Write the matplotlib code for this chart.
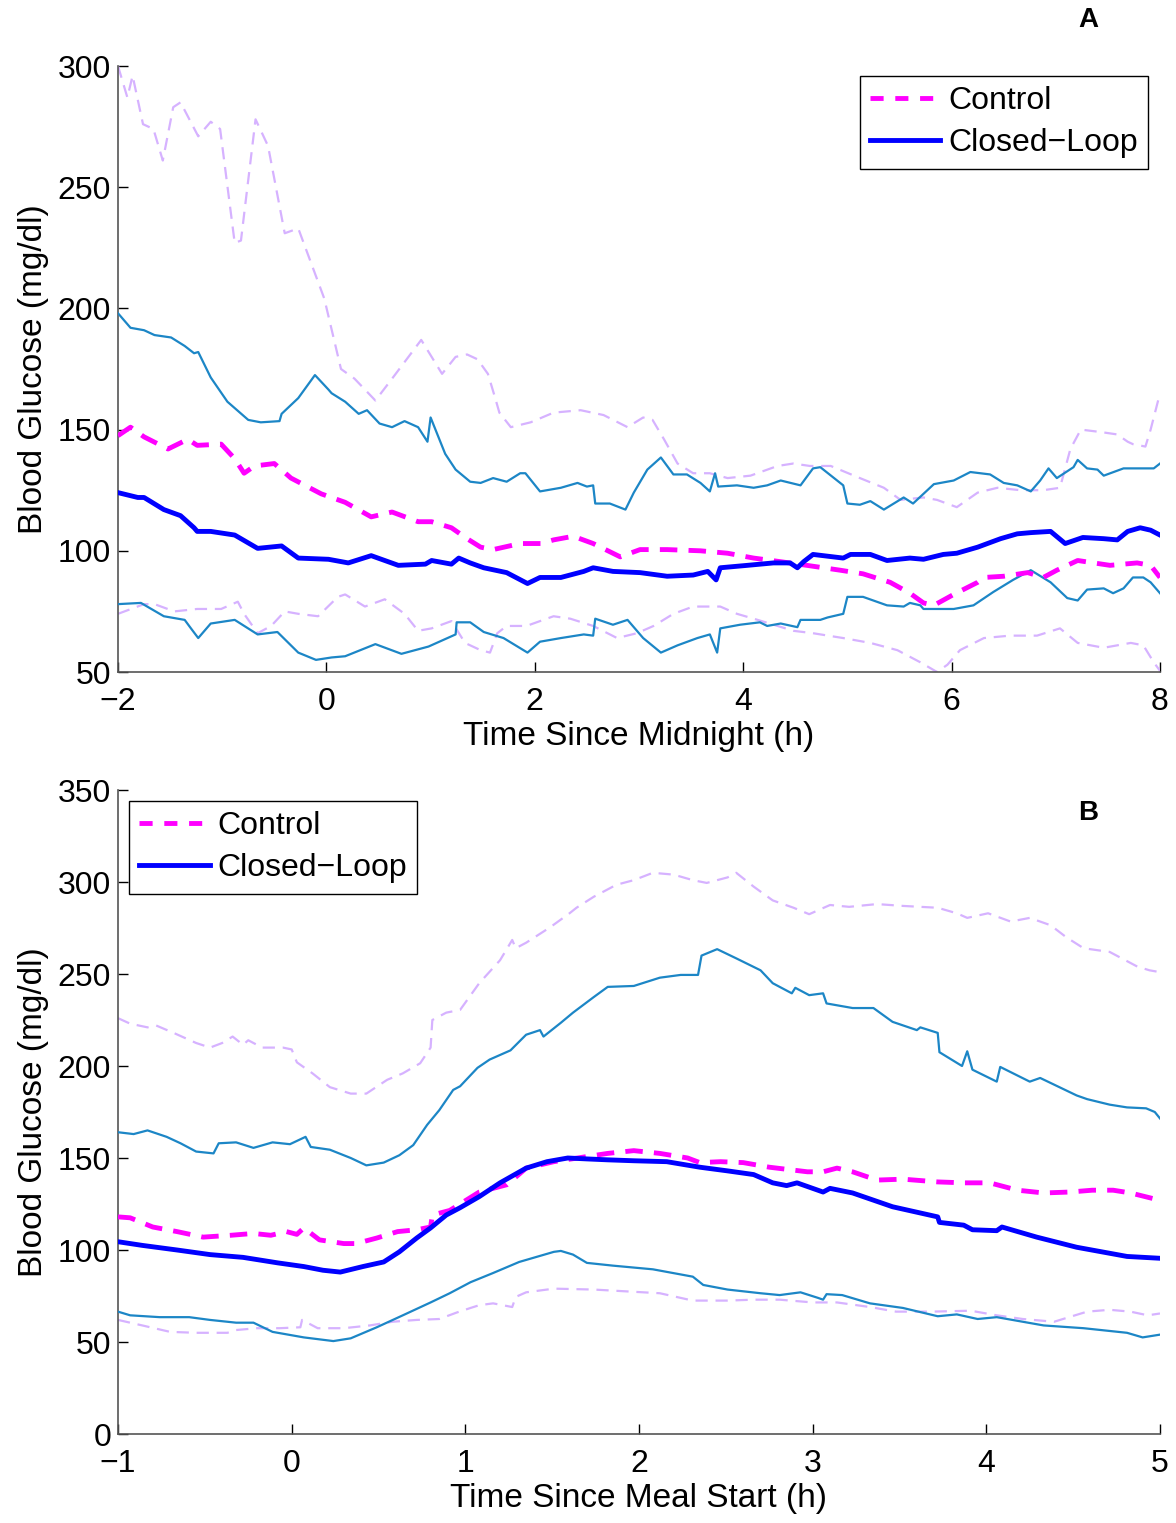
import matplotlib
matplotlib.use('Agg')
import matplotlib.pyplot as plt
from matplotlib.lines import Line2D

plt.rcParams['font.family'] = ['Liberation Sans', 'DejaVu Sans']

# ---------------- Panel A data (time since midnight, h ; glucose mg/dl) ----------------
a_ctrl_upper = [(-2.0,300),(-1.91,287),(-1.86,296),(-1.76,276),(-1.66,274),(-1.57,261),(-1.47,283),
    (-1.40,285),(-1.23,271),(-1.11,277),(-1.02,274),(-0.88,227),(-0.82,228),(-0.68,278),(-0.56,267),
    (-0.40,231),(-0.27,233),(-0.02,204),(0.14,175),(0.27,171),(0.47,162),(0.63,171),(0.91,187),
    (1.11,173),(1.24,180),(1.35,181),(1.45,179),(1.55,173),(1.62,163),(1.66,157),(1.77,151),(1.96,153),
    (2.18,157),(2.44,158),(2.66,156),(2.89,151),(3.04,155),(3.13,154),(3.24,146),(3.37,136),(3.52,132),
    (3.68,132),(3.85,130),(4.07,131),(4.33,135),(4.48,136),(4.64,135),(4.84,135),(5.12,130),(5.35,126),
    (5.51,121),(5.73,122),(5.86,121),(6.05,118),(6.25,124),(6.44,126),(6.66,125),(6.88,125),(7.04,126),
    (7.14,142),(7.24,150),(7.43,149),(7.59,148),(7.69,145),(7.74,144),(7.86,143),(7.91,150),(8.0,165)]
a_ctrl_lower = [(-2.0,74),(-1.75,78),(-1.65,78),(-1.46,75),(-1.24,76),(-1.01,76),(-0.85,79),(-0.79,74),
    (-0.66,66),(-0.53,69),(-0.40,75),(-0.27,74),(-0.08,73),(0.11,81),(0.18,82),(0.37,77),(0.56,80),
    (0.75,74),(0.88,67),(1.01,68),(1.20,71),(1.33,62),(1.48,59),(1.57,58),(1.64,66),(1.73,69),(1.92,69),
    (2.18,73),(2.34,72),(2.56,69),(2.79,64),(2.98,66),(3.14,69),(3.33,74),(3.52,77),(3.78,77),(3.94,74),
    (4.10,72),(4.33,69),(4.48,67),(4.67,66),(4.96,64),(5.22,62),(5.48,59),(5.70,54),(5.86,50),(5.96,53),
    (6.08,59),(6.31,64),(6.56,65),(6.82,65),(7.04,68),(7.21,62),(7.46,60),(7.72,62),(7.84,61),(7.94,54),
    (8.0,50.5)]
a_ctrl_mean = [(-2.0,147.5),(-1.88,151),(-1.75,147),(-1.52,142),(-1.33,146),(-1.24,143.5),(-1.01,144),
    (-0.88,138),(-0.79,132),(-0.69,135),(-0.50,136),(-0.34,130),(-0.05,123.5),(0.18,120),(0.43,114),
    (0.63,116),(0.88,112),(1.01,112),(1.20,109.5),(1.35,105),(1.48,101.5),(1.60,100.5),(1.86,103),
    (2.06,103),(2.18,104.5),(2.37,106),(2.56,103),(2.82,97.5),(3.01,100.5),(3.27,100.5),(3.59,100),
    (3.85,99),(4.10,97),(4.36,95.5),(4.61,94),(4.93,92),(5.15,90.5),(5.41,87),(5.60,82.5),(5.73,78.5),
    (5.83,77.5),(6.02,82),(6.25,87),(6.31,89),(6.50,89.5),(6.73,91),(6.88,89),(7.01,92),(7.21,96),
    (7.52,94),(7.78,95),(7.91,94),(8.0,89)]
a_cl_mean = [(-2.0,124),(-1.81,122),(-1.75,122),(-1.56,117),(-1.40,114.5),(-1.27,109.5),(-1.24,108),
    (-1.11,108),(-0.88,106.5),(-0.66,101),(-0.43,102),(-0.27,97),(0.02,96.5),(0.21,95),(0.43,98),
    (0.69,94),(0.95,94.5),(1.01,96),(1.20,94.5),(1.27,97),(1.38,95),(1.51,93),(1.73,91),(1.93,86.5),
    (2.05,89),(2.25,89),(2.47,91.5),(2.56,93),(2.75,91.5),(3.01,91),(3.27,89.5),(3.52,90),(3.66,91.5),
    (3.74,88),(3.78,93),(4.04,94),(4.29,95),(4.45,95),(4.52,93),(4.58,95.5),(4.67,98.5),(4.96,97),
    (5.03,98.5),(5.22,98.5),(5.38,96),(5.60,97),(5.73,96.5),(5.92,98.5),(6.05,99),(6.25,101.5),
    (6.47,105),(6.63,107),(6.76,107.5),(6.95,108),(7.09,103),(7.26,105.5),(7.46,105),(7.59,104.5),
    (7.69,108),(7.81,109.5),(7.91,108.5),(8.0,106.5)]
a_cl_upper = [(-2.0,198),(-1.88,192),(-1.75,191),(-1.65,189),(-1.49,188),(-1.36,184.5),(-1.27,181.5),
    (-1.23,182),(-1.11,171.5),(-0.95,161.5),(-0.75,154),(-0.63,153),(-0.45,153.5),(-0.43,156.5),
    (-0.27,163),(-0.11,172.5),(0.02,166.5),(0.05,165),(0.18,161.5),(0.31,156.5),(0.39,158),(0.51,152.5),
    (0.63,151),(0.75,153.5),(0.88,151),(0.97,145),(1.0,155),(1.14,140),(1.24,133.5),(1.38,128.5),
    (1.48,128),(1.60,130),(1.73,128.5),(1.86,132),(1.91,132),(2.05,124.5),(2.25,126),(2.41,128),
    (2.50,126.5),(2.56,127),(2.58,119.5),(2.72,119.5),(2.87,117),(2.95,124),(3.08,133.5),(3.21,138.5),
    (3.33,131.5),(3.46,131.5),(3.59,128),(3.68,124.5),(3.73,132),(3.76,126.5),(3.94,127),(4.10,126),
    (4.23,127),(4.36,129),(4.55,127),(4.67,134),(4.74,134.5),(4.96,127),(5.0,119.5),(5.12,119),
    (5.22,120.5),(5.35,117),(5.54,122),(5.63,119.5),(5.83,127.5),(6.02,129),(6.18,132.5),(6.37,131.5),
    (6.50,128),(6.63,127),(6.76,124.5),(6.85,129),(6.93,134),(7.01,130),(7.17,134.5),(7.21,137.5),
    (7.30,134),(7.40,133.5),(7.46,131),(7.65,134),(7.84,134),(7.94,134),(8.0,136)]
a_cl_lower = [(-2.0,78),(-1.78,78.5),(-1.56,73),(-1.36,71.5),(-1.30,68),(-1.23,64),(-1.11,70),(-0.88,71.5),
    (-0.66,65.5),(-0.47,66.5),(-0.27,58),(-0.10,55),(0.05,56),(0.18,56.5),(0.47,61.5),(0.72,57.5),
    (0.98,60.5),(1.24,65.5),(1.25,70.5),(1.38,70.5),(1.51,66.5),(1.70,64),(1.93,58),(2.05,62.5),
    (2.25,64),(2.47,65.5),(2.56,65),(2.58,72),(2.75,69.5),(2.89,71.5),(3.04,64),(3.21,58),(3.37,61),
    (3.56,64),(3.68,65.5),(3.75,58),(3.78,68),(3.97,69.5),(4.16,70.5),(4.23,69),(4.36,70),(4.52,68.5),
    (4.55,71.5),(4.74,71.5),(4.81,72.5),(4.96,74),(5.0,81),(5.15,81),(5.38,77.5),(5.54,77),(5.60,78.5),
    (5.70,77.5),(5.73,76),(6.02,76),(6.21,77.5),(6.40,83),(6.59,88),(6.76,92),(6.95,87),(7.11,80.5),
    (7.21,79.5),(7.30,84),(7.46,84.5),(7.55,82.5),(7.65,84.5),(7.74,89),(7.84,89),(7.91,87),(8.0,82.5)]

# ---------------- Panel B data (time since meal start, h ; glucose mg/dl) ----------------
b_ctrl_upper = [(-1.0,226),(-0.93,223),(-0.83,221),(-0.78,222),(-0.68,218),(-0.55,212.5),(-0.47,210),
    (-0.40,212.5),(-0.34,216),(-0.28,211.5),(-0.25,214),(-0.17,210),(-0.05,210),(0.0,209),(0.03,202),
    (0.12,196),(0.22,188.5),(0.34,185),(0.43,185),(0.55,192.5),(0.64,196),(0.74,201.5),(0.80,210),
    (0.81,225),(0.89,229),(0.97,230.5),(1.08,245),(1.20,257.5),(1.27,268.5),(1.29,264),(1.35,267),
    (1.49,275.5),(1.60,283),(1.64,286),(1.74,292),(1.87,298.5),(1.97,301),(2.08,305),(2.20,304),
    (2.31,301),(2.39,299.5),(2.51,302.5),(2.56,305),(2.66,297.5),(2.77,290),(2.89,286),(2.98,282.5),
    (3.10,287.5),(3.21,286.5),(3.37,288),(3.52,287),(3.72,286),(3.83,283),(3.89,280.5),(4.01,283),
    (4.14,278.5),(4.25,280.5),(4.37,276.5),(4.46,270),(4.56,264),(4.71,262),(4.77,259),(4.87,254),
    (4.94,252),(5.0,251)]
b_ctrl_lower = [(-1.0,62),(-0.86,59),(-0.70,55.5),(-0.55,55),(-0.37,55),(-0.32,56.5),(-0.20,57.5),
    (-0.07,57.5),(0.05,58),(0.06,62),(0.15,57.5),(0.30,57.5),(0.45,59),(0.58,61),(0.72,62),(0.85,62.5),
    (0.95,66),(1.03,68.5),(1.08,70),(1.16,71),(1.27,69),(1.29,74.5),(1.35,77),(1.51,79),(1.74,78.5),
    (1.93,77.5),(2.12,76.5),(2.31,72.5),(2.51,72.5),(2.66,73),(2.81,73),(3.0,71.5),(3.14,71.5),(3.33,69),
    (3.48,66.5),(3.68,66.5),(3.91,67),(4.06,64.5),(4.21,62.5),(4.39,61),(4.58,66.5),(4.71,67.5),
    (4.83,66.5),(4.93,64.5),(5.0,65.5)]
b_ctrl_mean = [(-1.0,118),(-0.93,117.5),(-0.80,112.5),(-0.66,110),(-0.51,107),(-0.35,108),(-0.22,109),
    (-0.12,108),(-0.03,110),(0.03,108.5),(0.07,112),(0.16,105.5),(0.30,103.5),(0.37,103.5),(0.49,106.5),
    (0.61,110),(0.72,111),(0.80,112.5),(0.81,119),(0.91,121.5),(1.08,131.5),(1.24,135.5),(1.35,144.5),
    (1.51,148),(1.68,150.5),(1.82,152.5),(1.97,154),(2.12,152.5),(2.28,150),(2.35,147.5),(2.47,148),
    (2.60,147.5),(2.75,145),(2.97,142.5),(3.06,142.5),(3.14,144.5),(3.23,142.5),(3.37,138),(3.52,138.5),
    (3.72,137),(3.87,136.5),(4.02,136.5),(4.18,132.5),(4.33,131),(4.48,131.5),(4.61,132.5),(4.73,132.5),
    (4.83,131),(5.0,127)]
b_cl_mean = [(-1.0,104.5),(-0.86,102.5),(-0.66,100),(-0.47,97.5),(-0.28,96),(-0.08,93),(0.07,91),
    (0.18,89),(0.28,88),(0.41,91),(0.53,93.5),(0.62,99),(0.72,106.5),(0.80,112),(0.89,119),(0.97,123),
    (1.08,129),(1.20,136.5),(1.35,144.5),(1.47,148),(1.59,150),(1.70,149.5),(1.82,149),(1.97,148.5),
    (2.16,148),(2.35,145),(2.51,143),(2.66,141),(2.77,136.5),(2.85,135),(2.91,136.5),(3.06,131.5),
    (3.10,133.5),(3.23,131),(3.46,123.5),(3.72,118),(3.73,115),(3.87,113.5),(3.92,111),(4.06,110.5),
    (4.09,112.5),(4.29,107),(4.52,101.5),(4.81,96.5),(5.0,95.5)]
b_cl_upper = [(-1.0,164),(-0.91,163),(-0.83,165),(-0.72,161.5),(-0.64,158),(-0.55,153.5),(-0.45,152.5),
    (-0.42,158),(-0.32,158.5),(-0.22,155.5),(-0.11,158.5),(-0.01,157.5),(0.08,161.5),(0.11,156),
    (0.22,154.5),(0.34,150),(0.43,146),(0.53,147.5),(0.62,151.5),(0.70,157),(0.78,168),(0.85,176),
    (0.93,187),(0.97,189),(1.07,199),(1.14,203.5),(1.26,208.5),(1.35,217),(1.43,219.5),(1.45,216),
    (1.55,223.5),(1.62,229),(1.74,237.5),(1.82,243),(1.97,243.5),(2.12,248),(2.24,249.5),(2.34,249.5),
    (2.36,260),(2.45,263.5),(2.56,258.5),(2.70,252),(2.77,245),(2.88,239.5),(2.90,242.5),(2.98,238.5),
    (3.06,239.5),(3.08,234),(3.23,231.5),(3.35,231.5),(3.46,224),(3.60,219.5),(3.62,221),(3.72,218),
    (3.73,207.5),(3.86,200),(3.89,208),(3.92,198),(4.06,191.5),(4.08,199.5),(4.25,191.5),(4.31,193.5),
    (4.52,184),(4.58,182),(4.71,179),(4.81,177.5),(4.92,177),(4.97,175),(5.0,171.5)]
b_cl_lower = [(-1.0,66.5),(-0.93,64.5),(-0.76,63.5),(-0.59,63.5),(-0.47,62),(-0.32,60.5),(-0.22,60.5),
    (-0.11,55.5),(0.07,52.5),(0.24,50.5),(0.34,52),(0.49,58),(0.64,64.5),(0.80,71.5),(0.91,76.5),
    (1.03,82.5),(1.16,87.5),(1.31,93.5),(1.51,99),(1.55,99.5),(1.62,97.5),(1.70,93),(1.85,91.5),
    (2.08,89.5),(2.31,85.5),(2.37,81),(2.51,78.5),(2.70,76.5),(2.81,75.5),(2.93,77),(3.03,74),(3.06,73),
    (3.08,76),(3.17,75.5),(3.33,71),(3.52,68.5),(3.72,64),(3.83,65),(3.95,62.5),(4.06,63.5),(4.33,59),
    (4.56,57.5),(4.81,55),(4.90,52.5),(5.0,54)]

a_xticks = [-2, 0, 2, 4, 6, 8]
a_yticks = [50, 100, 150, 200, 250, 300]
b_xticks = [-1, 0, 1, 2, 3, 4, 5]
b_yticks = [0, 50, 100, 150, 200, 250, 300, 350]
legend_labels = ['Control', 'Closed\u2212Loop']

# ---------------- styles ----------------
MAGENTA = '#FF00FF'
BLUE = '#0000FF'
LAVENDER = '#D6B2FF'
STEEL = '#1C86C6'
st_ctrl_mean = dict(color=MAGENTA, lw=3.5, dashes=(3.6, 2.3), zorder=4)
st_cl_mean = dict(color=BLUE, lw=3.5, zorder=5)
st_ctrl_bound = dict(color=LAVENDER, lw=1.6, dashes=(5.5, 3.5), zorder=2)
st_cl_bound = dict(color=STEEL, lw=1.6, zorder=3)

W, H = 1176, 1523
fig = plt.figure(figsize=(W / 100, H / 100), dpi=100)
axA = fig.add_axes([118 / W, 1 - 672 / H, 1042 / W, 606 / H])
axB = fig.add_axes([118 / W, 1 - 1434 / H, 1042 / W, 644 / H])


def plot_series(ax, pairs, style):
    xs = [p[0] for p in pairs]
    ys = [p[1] for p in pairs]
    ax.plot(xs, ys, **style)


def style_axes(ax, xlim, ylim, xticks, yticks, xlabel):
    ax.set_xlim(*xlim)
    ax.set_ylim(*ylim)
    ax.set_xticks(xticks)
    ax.set_yticks(yticks)
    ax.set_xticklabels([('\u2212%d' % -v) if v < 0 else str(v) for v in xticks])
    for s in ('top', 'right'):
        ax.spines[s].set_visible(False)
    for s in ('left', 'bottom'):
        ax.spines[s].set_color('#555555')
        ax.spines[s].set_linewidth(1.2)
    ax.tick_params(direction='in', length=7, width=1, labelsize=23, pad=5,
                   top=False, right=False, colors='black')
    ax.tick_params(axis='x', pad=11)
    ax.set_xlabel(xlabel, fontsize=24, labelpad=3)
    ax.set_ylabel('Blood Glucose (mg/dl)', fontsize=24, labelpad=6)


for ax, data in ((axA, (a_ctrl_upper, a_ctrl_lower, a_cl_upper, a_cl_lower, a_ctrl_mean, a_cl_mean)),
                 (axB, (b_ctrl_upper, b_ctrl_lower, b_cl_upper, b_cl_lower, b_ctrl_mean, b_cl_mean))):
    cu, cl, lu, ll, cm, lm = data
    plot_series(ax, cu, st_ctrl_bound)
    plot_series(ax, cl, st_ctrl_bound)
    plot_series(ax, lu, st_cl_bound)
    plot_series(ax, ll, st_cl_bound)
    plot_series(ax, cm, st_ctrl_mean)
    plot_series(ax, lm, st_cl_mean)

style_axes(axA, (-2, 8), (50, 300), a_xticks, a_yticks, 'Time Since Midnight (h)')
style_axes(axB, (-1, 5), (0, 350), b_xticks, b_yticks, 'Time Since Meal Start (h)')

handles = [Line2D([], [], color=MAGENTA, lw=3.5, dashes=(2.7, 2.4)),
           Line2D([], [], color=BLUE, lw=3.5)]
leg_kw = dict(fontsize=23, frameon=True, fancybox=False, edgecolor='black', framealpha=1,
              handlelength=2.2, handletextpad=0.25, labelspacing=0.38, borderpad=0.32,
              borderaxespad=0)
legA = axA.legend(handles, legend_labels, loc='upper right',
                  bbox_to_anchor=(1030 / 1042, (672 - 76) / 606), **leg_kw)
legB = axB.legend(handles, legend_labels, loc='upper left',
                  bbox_to_anchor=(11 / 1042, (1434 - 801) / 644), **leg_kw)
for lg in (legA, legB):
    lg.get_frame().set_linewidth(1.0)

fig.text(1088 / W, 1 - 20 / H, 'A', fontsize=20, fontweight='bold', ha='center', va='center')
fig.text(1088 / W, 1 - 813 / H, 'B', fontsize=20, fontweight='bold', ha='center', va='center')

fig.savefig('out.png', dpi=100, facecolor='white')
